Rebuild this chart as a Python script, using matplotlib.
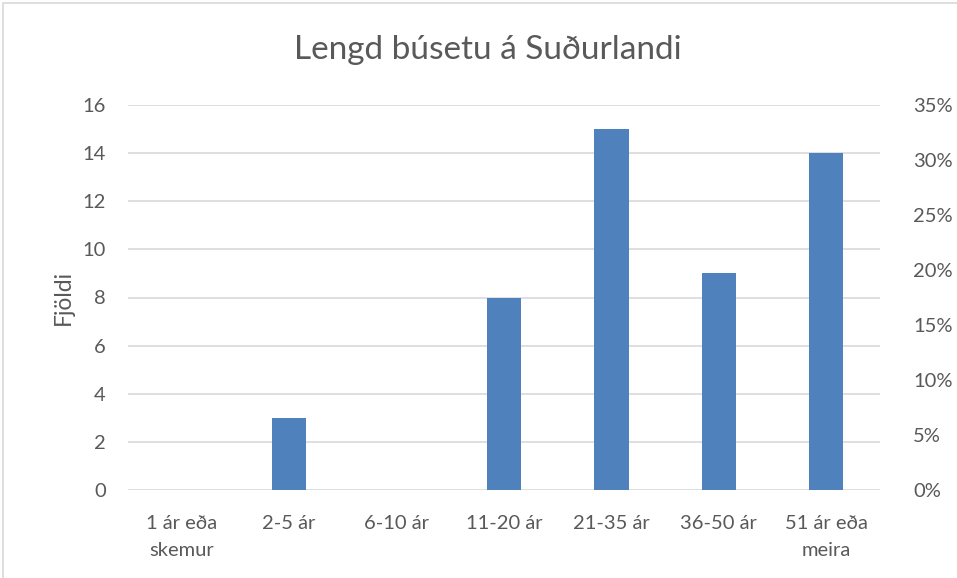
import matplotlib
matplotlib.use("Agg")
import matplotlib.pyplot as plt
from matplotlib.patches import Rectangle
from matplotlib.ticker import FuncFormatter

categories = ["1 ár eða\nskemur", "2-5 ár", "6-10 ár", "11-20 ár", "21-35 ár", "36-50 ár", "51 ár eða\nmeira"]
counts = [0, 3, 0, 8, 15, 9, 14]
left_ticks = [0, 2, 4, 6, 8, 10, 12, 14, 16]
right_ticks = [0, 0.05, 0.10, 0.15, 0.20, 0.25, 0.30, 0.35]

txt = "#595959"
grid = "#D9D9D9"
plt.rcParams['font.family'] = ['Lato', 'DejaVu Sans']

fig = plt.figure(figsize=(9.57, 5.78), dpi=100)
ax = fig.add_axes([128/957, 1 - 490/578, (880-128)/957, (490-105)/578])

x = list(range(len(categories)))
ax.bar(x, counts, width=0.32, color="#4F81BD", zorder=3)
ax.set_xlim(-0.5, len(categories) - 0.5)
ax.set_ylim(0, 16)
ax.set_yticks(left_ticks)
ax.set_xticks(x)
ax.set_xticklabels(categories, linespacing=1.75)
ax.yaxis.grid(True, color=grid, linewidth=1.2, zorder=0)
for s in ax.spines.values():
    s.set_visible(False)
ax.tick_params(axis="both", length=0, colors=txt, labelsize=14.5)
ax.tick_params(axis="x", pad=18)
ax.tick_params(axis="y", pad=16)
ax.set_ylabel("Fjöldi", color=txt, fontsize=16.5, labelpad=6)

ax2 = ax.twinx()
ax2.set_ylim(0, 0.35)
ax2.set_yticks(right_ticks)
ax2.yaxis.set_major_formatter(FuncFormatter(lambda v, p: f"{v*100:.0f}%"))
for s in ax2.spines.values():
    s.set_visible(False)
ax2.tick_params(axis="y", length=0, colors=txt, labelsize=14.5, pad=24)

fig.text(488/957, 1 - 50/578, "Lengd búsetu á Suðurlandi", ha="center", va="center",
         color=txt, fontsize=24)
fig.patches.append(Rectangle((3/957, -0.01), 1.02, 1 - 3/578 + 0.01, transform=fig.transFigure,
                             fill=False, edgecolor=grid, linewidth=1.2))

fig.savefig("out.png", dpi=100)
